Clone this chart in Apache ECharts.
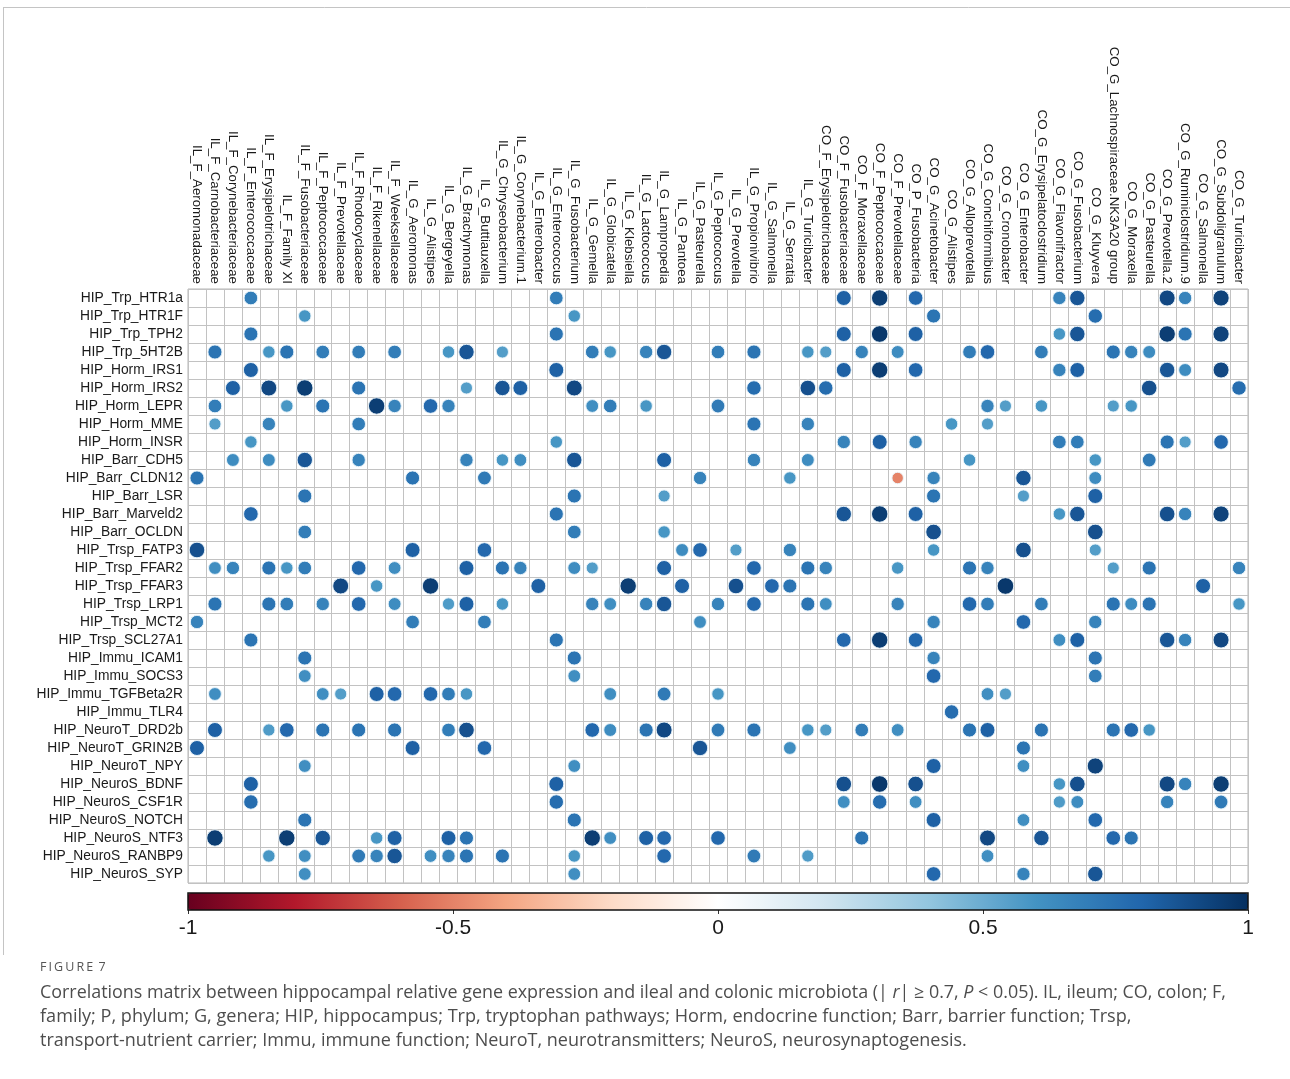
<!DOCTYPE html>
<html>
<head>
<meta charset="utf-8">
<script src="https://cdn.jsdelivr.net/npm/echarts@6/dist/echarts.min.js"></script>
<style>
html,body{margin:0;padding:0;background:#fff;}
#chart{width:1290px;height:1079px;}
</style>
</head>
<body>
<div id="chart"></div>
<script>
const colLabels = [
 'IL_F_Aeromonadaceae','IL_F_Carnobacteriaceae','IL_F_Corynebacteriaceae','IL_F_Enterococcaceae','IL_F_Erysipelotrichaceae',
 'IL_F_Family XI','IL_F_Fusobacteriaceae','IL_F_Peptococcaceae','IL_F_Prevotellaceae','IL_F_Rhodocyclaceae',
 'IL_F_Rikenellaceae','IL_F_Weeksellaceae','IL_G_Aeromonas','IL_G_Alistipes','IL_G_Bergeyella',
 'IL_G_Brachymonas','IL_G_Buttiauxella','IL_G_Chryseobacterium','IL_G_Corynebacterium.1','IL_G_Enterobacter',
 'IL_G_Enterococcus','IL_G_Fusobacterium','IL_G_Gemella','IL_G_Globicatella','IL_G_Klebsiella',
 'IL_G_Lactococcus','IL_G_Lampropedia','IL_G_Pantoea','IL_G_Pasteurella','IL_G_Peptococcus',
 'IL_G_Prevotella','IL_G_Propionivibrio','IL_G_Salmonella','IL_G_Serratia','IL_G_Turicibacter',
 'CO_F_Erysipelotrichaceae','CO_F_Fusobacteriaceae','CO_F_Moraxellaceae','CO_F_Peptococcaceae','CO_F_Prevotellaceae',
 'CO_P_Fusobacteria','CO_G_Acinetobacter','CO_G_Alistipes','CO_G_Alloprevotella','CO_G_Conchiformibius',
 'CO_G_Cronobacter','CO_G_Enterobacter','CO_G_Erysipelatoclostridium','CO_G_Flavonifractor','CO_G_Fusobacterium',
 'CO_G_Kluyvera','CO_G_Lachnospiraceae.NK3A20 group','CO_G_Moraxella','CO_G_Pasteurella','CO_G_Prevotella.2',
 'CO_G_Ruminiclostridium.9','CO_G_Salmonella','CO_G_Subdoligranulum','CO_G_Turicibacter'
];

const rowLabels = [
 'HIP_Trp_HTR1a','HIP_Trp_HTR1F','HIP_Trp_TPH2','HIP_Trp_5HT2B','HIP_Horm_IRS1','HIP_Horm_IRS2','HIP_Horm_LEPR',
 'HIP_Horm_MME','HIP_Horm_INSR','HIP_Barr_CDH5','HIP_Barr_CLDN12','HIP_Barr_LSR','HIP_Barr_Marveld2','HIP_Barr_OCLDN',
 'HIP_Trsp_FATP3','HIP_Trsp_FFAR2','HIP_Trsp_FFAR3','HIP_Trsp_LRP1','HIP_Trsp_MCT2','HIP_Trsp_SCL27A1',
 'HIP_Immu_ICAM1','HIP_Immu_SOCS3','HIP_Immu_TGFBeta2R','HIP_Immu_TLR4','HIP_NeuroT_DRD2b','HIP_NeuroT_GRIN2B',
 'HIP_NeuroT_NPY','HIP_NeuroS_BDNF','HIP_NeuroS_CSF1R','HIP_NeuroS_NOTCH','HIP_NeuroS_NTF3','HIP_NeuroS_RANBP9','HIP_NeuroS_SYP'
];

const colorbarTicks = [-1, -0.5, 0, 0.5, 1];

// per row: [column index, r]
const rowCorr = [
 [[3,.70],[20,.70],[36,.82],[38,.95],[40,.79],[48,.67],[49,.86],[54,.91],[55,.67],[57,.93]],
 [[6,.59],[21,.59],[41,.74],[50,.77]],
 [[3,.74],[20,.74],[36,.82],[38,.97],[40,.82],[48,.59],[49,.86],[54,.95],[55,.74],[57,.93]],
 [[1,.74],[4,.59],[5,.74],[7,.70],[9,.70],[11,.70],[14,.59],[15,.86],[17,.56],[22,.70],[23,.59],[25,.67],[26,.86],[29,.70],[31,.74],[34,.59],[35,.56],[37,.67],[39,.63],[43,.70],[44,.79],[47,.70],[51,.74],[52,.67],[53,.63]],
 [[3,.82],[20,.82],[36,.82],[38,.95],[40,.79],[48,.67],[49,.82],[54,.86],[55,.63],[57,.91]],
 [[2,.82],[4,.91],[6,.95],[9,.74],[15,.56],[17,.86],[18,.82],[21,.91],[31,.77],[34,.88],[35,.77],[53,.88],[58,.77]],
 [[1,.70],[5,.59],[7,.74],[10,.95],[11,.67],[13,.79],[14,.67],[22,.62],[23,.70],[25,.59],[29,.71],[44,.67],[45,.56],[47,.59],[51,.56],[52,.59]],
 [[1,.56],[4,.67],[9,.70],[31,.74],[34,.67],[42,.59],[44,.56]],
 [[3,.59],[20,.59],[36,.67],[38,.82],[40,.67],[48,.70],[49,.70],[54,.74],[55,.56],[57,.79]],
 [[2,.63],[4,.63],[6,.86],[9,.67],[15,.67],[17,.59],[18,.62],[21,.86],[26,.82],[31,.67],[34,.63],[43,.59],[50,.59],[53,.71]],
 [[0,.74],[12,.74],[16,.71],[28,.67],[33,.59],[39,-.5],[41,.67],[46,.86],[50,.63]],
 [[6,.74],[21,.74],[26,.56],[41,.74],[46,.56],[50,.82]],
 [[3,.79],[20,.74],[36,.86],[38,.95],[40,.82],[48,.59],[49,.86],[54,.88],[55,.67],[57,.93]],
 [[6,.70],[21,.70],[26,.59],[41,.88],[50,.88]],
 [[0,.88],[12,.82],[16,.79],[27,.63],[28,.79],[30,.56],[33,.67],[41,.59],[46,.88],[50,.56]],
 [[1,.62],[2,.67],[4,.74],[5,.59],[6,.70],[9,.79],[11,.62],[15,.82],[17,.74],[18,.67],[21,.63],[22,.56],[26,.82],[31,.79],[34,.74],[35,.67],[39,.59],[43,.74],[44,.67],[51,.56],[53,.74],[58,.67]],
 [[8,.91],[10,.59],[13,.95],[19,.82],[24,.95],[27,.82],[30,.88],[32,.79],[33,.74],[45,.97],[56,.82]],
 [[1,.74],[4,.74],[5,.70],[7,.67],[9,.79],[11,.63],[14,.57],[15,.82],[17,.59],[22,.67],[23,.62],[25,.67],[26,.86],[29,.67],[31,.79],[34,.74],[35,.62],[39,.67],[43,.79],[44,.70],[47,.70],[51,.74],[52,.63],[53,.74],[58,.59]],
 [[0,.67],[12,.70],[16,.70],[28,.62],[41,.67],[46,.79],[50,.67]],
 [[3,.74],[20,.74],[36,.79],[38,.95],[40,.79],[48,.62],[49,.82],[54,.86],[55,.67],[57,.91]],
 [[6,.74],[21,.74],[41,.67],[50,.74]],
 [[6,.62],[21,.62],[41,.79],[50,.70]],
 [[1,.62],[7,.62],[8,.56],[10,.82],[11,.79],[13,.79],[14,.70],[15,.59],[23,.62],[26,.71],[29,.59],[44,.62],[45,.56]],
 [[42,.77]],
 [[1,.82],[4,.57],[5,.79],[7,.74],[9,.74],[11,.74],[14,.70],[15,.88],[22,.79],[23,.63],[25,.74],[26,.91],[29,.71],[31,.74],[34,.59],[35,.56],[37,.70],[39,.62],[43,.74],[44,.82],[47,.74],[51,.74],[52,.79],[53,.59]],
 [[0,.82],[12,.82],[16,.79],[28,.86],[33,.62],[46,.74]],
 [[6,.62],[21,.62],[41,.82],[46,.62],[50,.93]],
 [[3,.82],[20,.82],[36,.88],[38,.97],[40,.88],[48,.59],[49,.88],[54,.91],[55,.67],[57,.95]],
 [[3,.77],[20,.77],[36,.62],[38,.77],[40,.62],[48,.57],[49,.63],[54,.67],[57,.71]],
 [[6,.74],[21,.74],[41,.82],[46,.62],[50,.79]],
 [[1,.95],[5,.95],[7,.86],[10,.59],[11,.82],[14,.82],[15,.74],[22,.95],[23,.62],[25,.82],[26,.79],[29,.79],[37,.74],[44,.91],[47,.86],[51,.79],[52,.74]],
 [[4,.59],[6,.62],[9,.71],[10,.67],[11,.86],[13,.62],[14,.67],[15,.74],[17,.74],[21,.59],[26,.79],[31,.71],[34,.57],[44,.62]],
 [[6,.62],[21,.62],[41,.79],[46,.67],[50,.86]]
];

const points = [];
rowCorr.forEach((row, j) => row.forEach(([c, v]) => points.push([c, j, v])));

const rdbu = ['#67001F','#B2182B','#D6604D','#F4A582','#FDDBC7','#FFFFFF','#D1E5F0','#92C5DE','#4393C3','#2166AC','#053061'];

const chart = echarts.init(document.getElementById('chart'), null, {renderer:'canvas'});
const labelFont = 'Liberation Sans, Arial, sans-serif';
const capFont = 'Open Sans, Noto Sans, sans-serif';
const capColor = '#4d4d4d';

chart.setOption({
  backgroundColor: '#fff',
  animation: false,
  grid: [
    {left: 188, top: 289, width: 1060, height: 594, show: true, borderColor: '#b5b5b5', borderWidth: 1, containLabel: false},
    {left: 188, top: 893, width: 1060, height: 17, show: true, borderColor: '#111', borderWidth: 1.5, z: 10, backgroundColor: 'transparent'}
  ],
  xAxis: [
    {type: 'category', gridIndex: 0, data: colLabels, position: 'top',
     axisLine: {show: false}, axisTick: {show: false},
     axisLabel: {rotate: 90, interval: 0, margin: 5, fontSize: 13.3, color: '#1a1a1a', fontFamily: labelFont},
     splitLine: {show: true, interval: 0, lineStyle: {color: '#c2c2c2', width: 1}}},
    {type: 'value', gridIndex: 1, min: -1, max: 1, interval: 0.5, position: 'bottom',
     axisLine: {show: false}, splitLine: {show: false},
     axisTick: {show: true, length: 4, lineStyle: {color: '#333'}},
     axisLabel: {fontSize: 21, color: '#1a1a1a', margin: 8, fontFamily: labelFont,
       customValues: colorbarTicks, formatter: v => String(v)}}
  ],
  yAxis: [
    {type: 'category', gridIndex: 0, data: rowLabels, inverse: true,
     axisLine: {show: false}, axisTick: {show: false},
     axisLabel: {interval: 0, margin: 5, fontSize: 13.8, color: '#1a1a1a', fontFamily: labelFont},
     splitLine: {show: true, interval: 0, lineStyle: {color: '#c2c2c2', width: 1}}},
    {type: 'value', gridIndex: 1, show: false, min: 0, max: 1}
  ],
  visualMap: {
    type: 'continuous', min: -1, max: 1, orient: 'horizontal', seriesIndex: 0,
    left: 188, top: 893, itemWidth: 17, itemHeight: 1060, padding: 0,
    calculable: false, showLabel: false, text: null, hoverLink: false,
    inRange: {color: rdbu}
  },
  series: [{
    type: 'scatter', xAxisIndex: 0, yAxisIndex: 0, data: points,
    symbolSize: d => 6 + 11 * Math.abs(d[2]),
    itemStyle: {borderColor: 'rgba(235,244,250,0.95)', borderWidth: 1, opacity: 1},
    z: 5
  }],
  graphic: [
    {type: 'line', shape: {x1: 3, y1: 7.5, x2: 1290, y2: 7.5}, style: {stroke: '#c4c4c4', lineWidth: 1}},
    {type: 'line', shape: {x1: 3.5, y1: 7, x2: 3.5, y2: 955}, style: {stroke: '#c4c4c4', lineWidth: 1}},
    {type: 'text', left: 40, top: 961, style: {text: 'F\u2009I\u2009G\u2009U\u2009R\u2009E\u2009 7', font: '12.5px ' + capFont, fill: '#555'}},
    {type: 'text', left: 40, top: 984, style: {
      text: '{n|Correlations matrix between hippocampal relative gene expression and ileal and colonic microbiota (| }{i|r}{n|| ≥ 0.7, }{i|P}{n| < 0.05). IL, ileum; CO, colon; F,}',
      rich: {n: {font: '17.9px ' + capFont, fill: capColor}, i: {font: 'italic 17.9px ' + capFont, fill: capColor}}}},
    {type: 'text', left: 40, top: 1008, style: {
      text: 'family; P, phylum; G, genera; HIP, hippocampus; Trp, tryptophan pathways; Horm, endocrine function; Barr, barrier function; Trsp,',
      font: '18.1px ' + capFont, fill: capColor}},
    {type: 'text', left: 40, top: 1032, style: {
      text: 'transport-nutrient carrier; Immu, immune function; NeuroT, neurotransmitters; NeuroS, neurosynaptogenesis.',
      font: '18px ' + capFont, fill: capColor}}
  ]
});
</script>
</body>
</html>
